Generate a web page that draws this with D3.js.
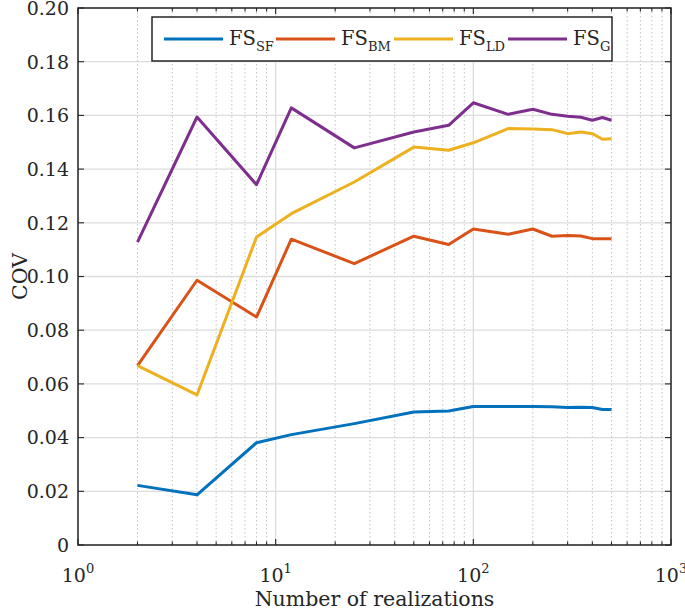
<!DOCTYPE html>
<html>
<head>
<meta charset="utf-8">
<script src="https://cdn.jsdelivr.net/npm/d3@7"></script>
<style>
html,body{margin:0;padding:0;background:#fff;}
svg{display:block;}
text{font-family:"DejaVu Serif",serif;fill:#262626;}
</style>
</head>
<body>
<svg id="chart" width="685" height="611"></svg>
<script>
// ---- data ----
const realizations = [2,4,8,12,25,50,75,100,150,200,250,300,350,400,450,500];
const covSF = [0.0222,0.0187,0.0381,0.0411,0.0452,0.0495,0.0499,0.0516,0.0516,0.0516,0.0515,0.0512,0.0513,0.0512,0.0505,0.0505];
const covBM = [0.0668,0.0986,0.0849,0.1139,0.1048,0.1150,0.1119,0.1177,0.1157,0.1177,0.1150,0.1153,0.1151,0.1141,0.1141,0.1141];
const covLD = [0.0668,0.0559,0.1147,0.1234,0.1352,0.1482,0.1470,0.1498,0.1551,0.1549,0.1547,0.1532,0.1538,0.1532,0.1511,0.1513];
const covG  = [0.1128,0.1594,0.1342,0.1628,0.1479,0.1538,0.1563,0.1647,0.1604,0.1623,0.1604,0.1597,0.1593,0.1582,0.1592,0.1582];
const seriesNames = ["SF","BM","LD","G"];
const seriesColors = ["#0072BD","#D95319","#EDB120","#7E2F8E"];
const xMajorTicks = [1,10,100,1000];
const xExponents = ["0","1","2","3"];
const yTicks = [0,0.02,0.04,0.06,0.08,0.10,0.12,0.14,0.16,0.18,0.20];
const xLabel = "Number of realizations";
const yLabel = "COV";

const seriesValues = [covSF,covBM,covLD,covG];

const svg = d3.select("#chart");
const L = 78, R = 671, T = 8, B = 545;
const x = d3.scaleLog().domain([1,1000]).range([L,R]);
const y = d3.scaleLinear().domain([0,0.2]).range([B,T]);

const xMinor = [];
for (let d = 1; d < 1000; d *= 10) for (let k = 2; k <= 9; k++) xMinor.push(d*k);

const grid = svg.append("g");
// minor x grid (dotted)
grid.selectAll("line.mx").data(xMinor).join("line")
  .attr("x1", d => x(d)).attr("x2", d => x(d)).attr("y1", T).attr("y2", B)
  .attr("stroke", "#c4c4c4").attr("stroke-width", 1).attr("stroke-dasharray", "1.5,2.5");
// major grid
grid.selectAll("line.gx").data(xMajorTicks).join("line")
  .attr("x1", d => x(d)).attr("x2", d => x(d)).attr("y1", T).attr("y2", B)
  .attr("stroke", "#dcdcdc").attr("stroke-width", 1.3);
grid.selectAll("line.gy").data(yTicks).join("line")
  .attr("x1", L).attr("x2", R).attr("y1", d => y(d)).attr("y2", d => y(d))
  .attr("stroke", "#dcdcdc").attr("stroke-width", 1.3);

// lines
const line = d3.line().x((d,i) => x(realizations[i])).y(d => y(d));
svg.append("g").selectAll("path").data(seriesValues).join("path")
  .attr("d", d => line(d)).attr("fill", "none")
  .attr("stroke", (d,i) => seriesColors[i]).attr("stroke-width", 3)
  .attr("stroke-linejoin", "round");

// axes (ticks inward)
const axisG = svg.append("g");
const tickLen = 6, minorLen = 3.5;
function ticks(data, len, bottom) {
  axisG.append("g").selectAll("line").data(data).join("line")
    .attr("x1", d => x(d)).attr("x2", d => x(d))
    .attr("y1", bottom ? B : T).attr("y2", bottom ? B - len : T + len)
    .attr("stroke", "#262626").attr("stroke-width", 1.1);
}
ticks(xMajorTicks, tickLen, true); ticks(xMajorTicks, tickLen, false);
ticks(xMinor, minorLen, true); ticks(xMinor, minorLen, false);
axisG.append("g").selectAll("line").data(yTicks).join("line")
  .attr("x1", L).attr("x2", L + tickLen).attr("y1", d => y(d)).attr("y2", d => y(d))
  .attr("stroke", "#262626").attr("stroke-width", 1.1);
axisG.append("g").selectAll("line").data(yTicks).join("line")
  .attr("x1", R).attr("x2", R - tickLen).attr("y1", d => y(d)).attr("y2", d => y(d))
  .attr("stroke", "#262626").attr("stroke-width", 1.1);
axisG.append("rect").attr("x", L).attr("y", T).attr("width", R - L).attr("height", B - T)
  .attr("fill", "none").attr("stroke", "#262626").attr("stroke-width", 1.5);

// y tick labels
svg.append("g").selectAll("text").data(yTicks).join("text")
  .attr("x", L - 9).attr("y", d => y(d)).attr("dy", "0.36em")
  .attr("text-anchor", "end").attr("font-size", 19)
  .text(d => d === 0 ? "0" : d3.format(".2f")(d));

// x tick labels
const xl = svg.append("g").selectAll("text").data(xMajorTicks).join("text")
  .attr("x", (d) => x(d)).attr("y", 582).attr("text-anchor", "middle").attr("font-size", 19);
xl.append("tspan").text("10");
xl.append("tspan").attr("font-size", 13).attr("dy", -9).text((d,i) => xExponents[i]);

// axis labels
svg.append("text").attr("x", (L + R) / 2).attr("y", 606).attr("text-anchor", "middle")
  .attr("font-size", 20.5).text(xLabel);
svg.append("text").attr("transform", `translate(27,${(T + B) / 2}) rotate(-90)`)
  .attr("text-anchor", "middle").attr("font-size", 20.5).text(yLabel);

// legend
const lg = svg.append("g");
lg.append("rect").attr("x", 152).attr("y", 17).attr("width", 460).attr("height", 44)
  .attr("fill", "#fff").attr("stroke", "#262626").attr("stroke-width", 1.5);
const legX = [164, 276, 394, 508];
const items = lg.selectAll("g.item").data(seriesNames).join("g")
  .attr("transform", (d,i) => `translate(${legX[i]},39)`);
items.append("line").attr("x1", 0).attr("x2", 59).attr("y1", 0).attr("y2", 0)
  .attr("stroke", (d,i) => seriesColors[i]).attr("stroke-width", 3);
const lt = items.append("text").attr("x", 65).attr("y", 6).attr("font-size", 19.5);
lt.append("tspan").text("FS");
lt.append("tspan").attr("font-size", 13).attr("dy", 6).text(d => d);
</script>
</body>
</html>
